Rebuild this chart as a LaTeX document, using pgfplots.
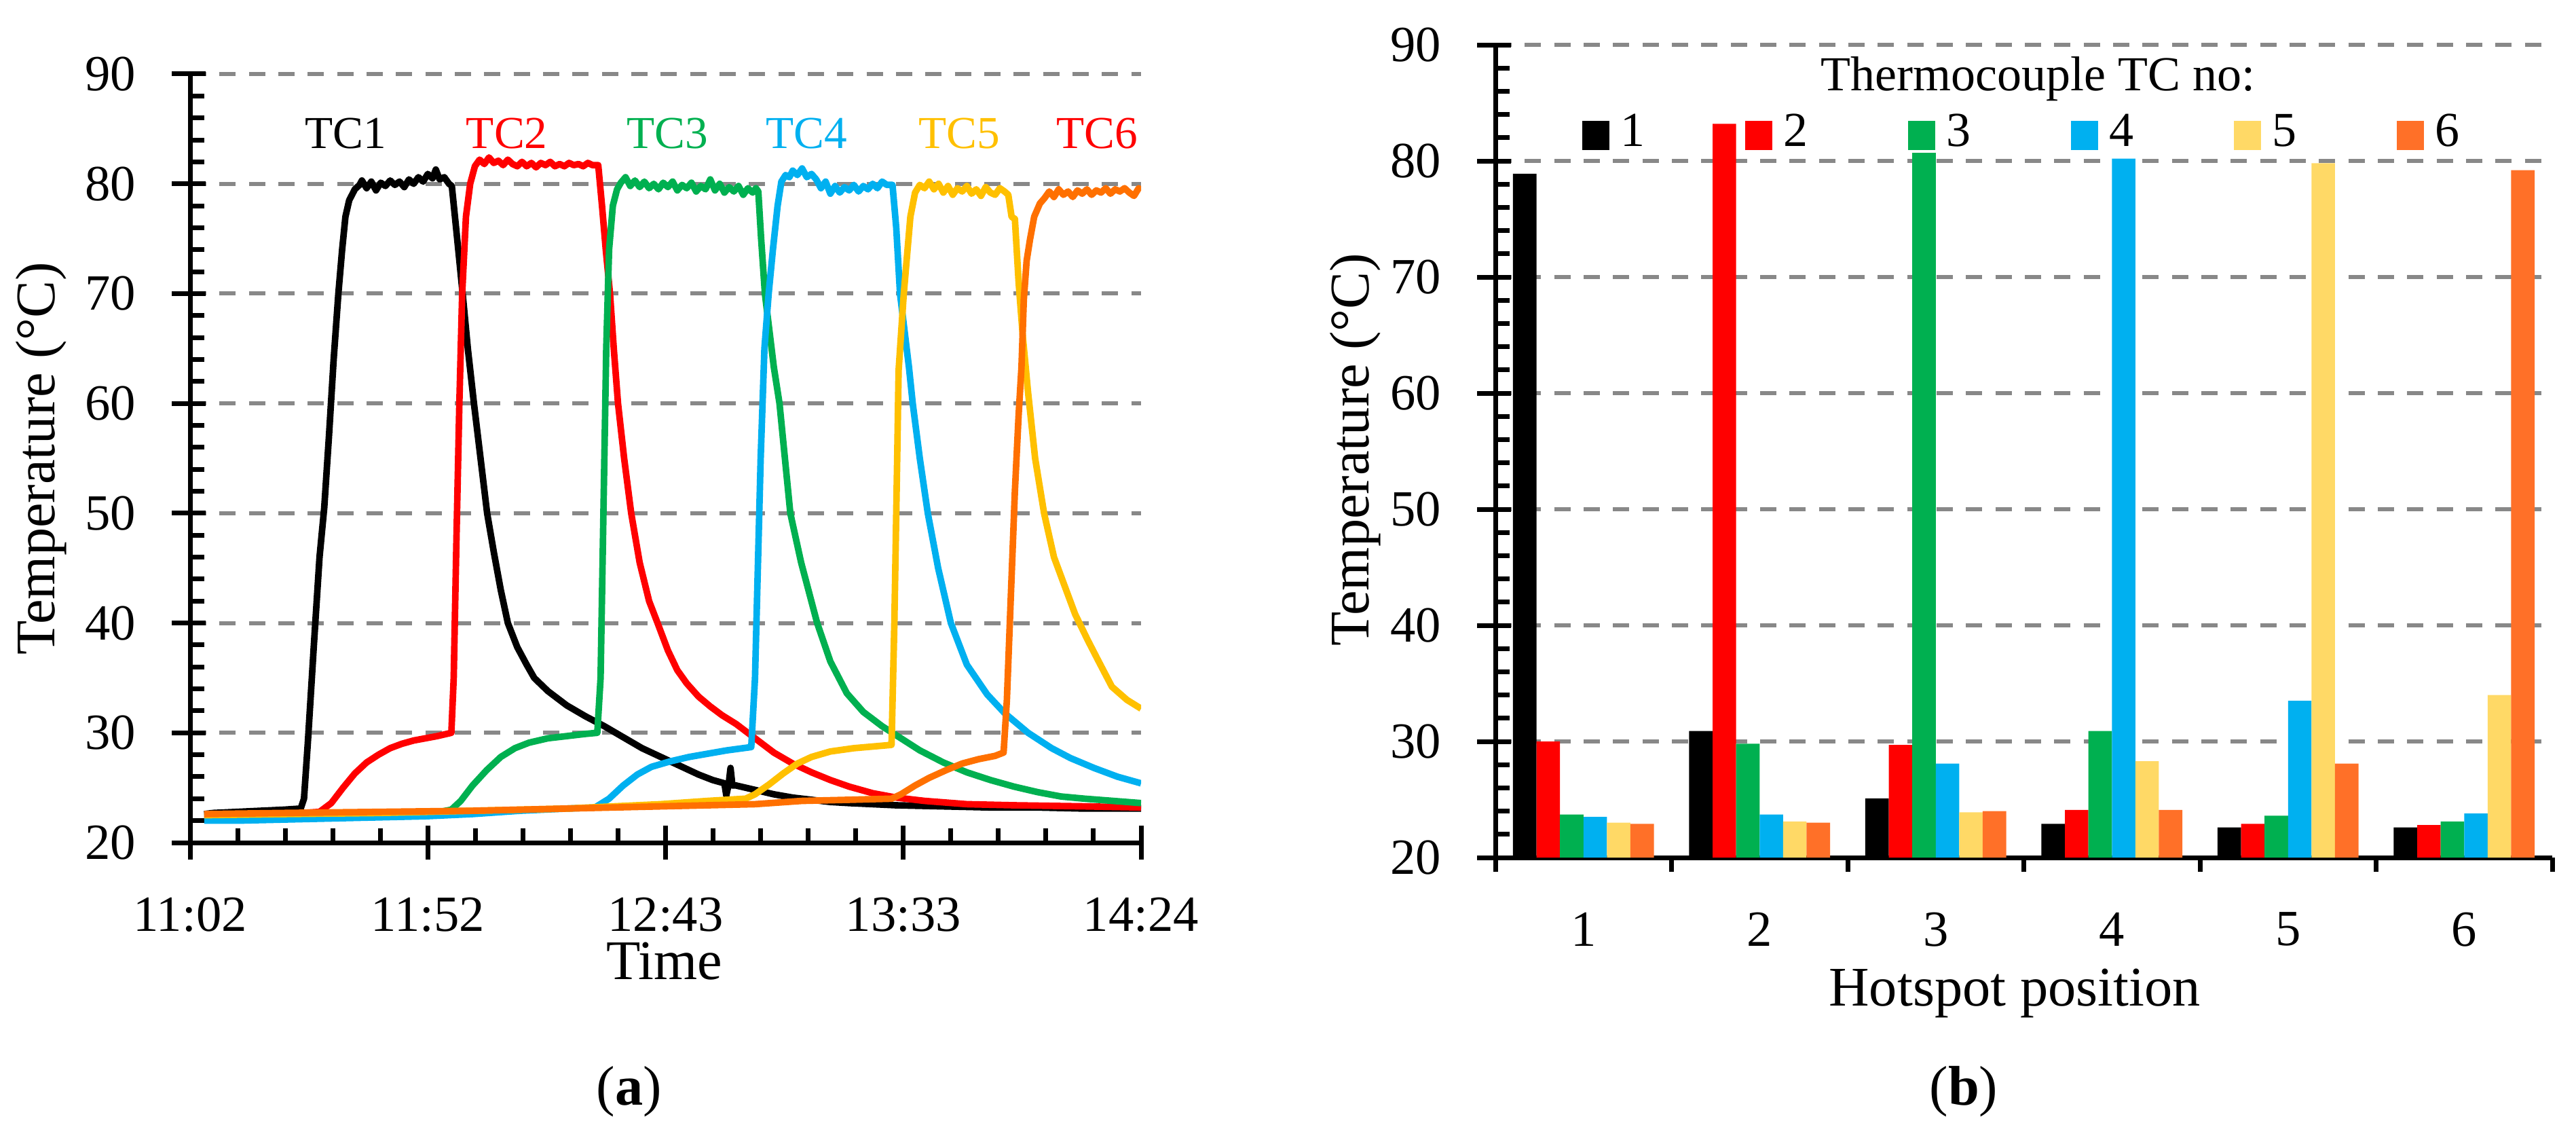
\documentclass[border=0pt]{standalone}
\usepackage{pgfplots}
\pgfplotsset{compat=1.18}
\usepackage{pgfplotstable}
\usepackage{fontspec}
\setmainfont{Liberation Serif}
\definecolor{tcred}{HTML}{FF0000}
\definecolor{tcgreen}{HTML}{00B050}
\definecolor{tcblue}{HTML}{00B0F0}
\definecolor{tcyellow}{HTML}{FFC000}
\definecolor{tcorange}{HTML}{FF7000}
\definecolor{bryellow}{HTML}{FFD966}
\definecolor{brorange}{HTML}{FF7028}
\definecolor{gridgray}{HTML}{888888}

\pgfplotstableread{
pos tc1 tc2 tc3 tc4 tc5 tc6
1 78.9 30.0 23.7 23.5 23.0 22.9
2 30.9 83.2 29.8 23.7 23.1 23.0
3 25.1 29.7 80.7 28.1 23.9 24.0
4 22.9 24.1 30.9 80.2 28.3 24.1
5 22.6 22.9 23.6 33.5 79.8 28.1
6 22.6 22.8 23.1 23.8 34.0 79.2
}\bardata

\pgfplotsset{
  panel/.style={
    scale only axis,
    axis x line*=bottom, axis y line*=left,
    axis line style={-, line width=1.05pt, black},
    every outer x axis line/.append style={-},
    every outer y axis line/.append style={-},
    tick align=inside,
    major tick length=7.5pt, minor tick length=3.1pt,
    tick style={line width=1.05pt, black},
    every major y tick/.append style={xshift=-4pt},
    ymin=20, ymax=90, ytick={20,30,...,90}, minor y tick num=4,
    ymajorgrids,
    major grid style={gridgray, line width=0.9pt, dash pattern=on 3.6pt off 2.9pt},
    tick label style={font=\fontsize{11.2}{13}\selectfont},
    yticklabel style={xshift=-8.5pt},
    xticklabel style={yshift=-8.6pt},
    /pgf/number format/assume math mode=true,
    no markers,
  },
  tcline/.style={line width=1.45pt, line join=round},
  sqlegend/.style={legend image code/.code={\fill[##1] (0pt,-3.65pt) rectangle (6pt,2.85pt);}},
}

\begin{document}
\begin{tikzpicture}
\useasboundingbox (0pt,0pt) rectangle (569.25pt,251.7pt);

% ---------------- (a) ----------------
\begin{axis}[panel,
  at={(42pt,65.55pt)}, anchor=south west,
  width=210.15pt, height=169.8pt,
  xmin=0, xmax=202,
  xtick={0,50.5,101,151.5,202},
  xticklabels={11:02,11:52,12:43,13:33,14:24},
  minor x tick num=4,
  every major x tick/.append style={yshift=-3.75pt},
]
\addplot[tcline, black] coordinates {
(3,22.6)(5,22.7)(10,22.8)(15,22.9)(20,23.0)(23.5,23.1)(24.2,24)(25,29)(26.3,38)(27.5,46)(28.5,50.5)(29.5,57)(30.5,64)(31.5,70)(32.3,74)(33,77)(33.8,78.5)(35,79.5)(36,79.9)(36.5,80.3)(37.5,79.6)(38.5,80.2)(39.5,79.4)(40.5,80.1)(41.5,79.8)(42.5,80.3)(43.5,79.9)(44.5,80.2)(45.5,79.7)(46.5,80.4)(47.5,80.0)(48.5,80.6)(49.5,80.2)(50.5,80.9)(51.5,80.5)(52.2,81.3)(53,80.4)(54,80.6)(55,80.0)(55.6,79.8)(56.5,76)(57.9,70)(59,65)(60.3,60)(61.7,55)(63.1,50)(64.5,46.5)(66,43)(67.5,40)(69.5,37.8)(71.5,36.2)(73.1,35)(76,33.8)(80,32.5)(84,31.5)(88,30.6)(92,29.6)(96,28.6)(100,27.8)(104,27.0)(108,26.2)(111,25.7)(113.5,25.4)(113.9,24.3)(114.4,25.3)(114.8,26.8)(115.2,25.2)(116,25.2)(118,25.0)(120,24.8)(124,24.4)(128,24.1)(132,23.9)(136,23.7)(140,23.6)(145,23.5)(150,23.4)(160,23.3)(170,23.2)(180,23.2)(190,23.1)(202,23.1)
};
\addplot[tcline, tcred] coordinates {
(3,22.5)(10,22.5)(20,22.6)(27.5,22.8)(30,23.6)(32.5,25)(35,26.3)(37.5,27.3)(40,28.0)(42.5,28.6)(45,29.0)(47.5,29.3)(50,29.5)(52.5,29.7)(54.5,29.9)(55.5,30.0)(56,35)(56.6,48)(57.2,60)(57.8,70)(58.6,77)(59.5,80)(60.5,81.6)(61.5,82.2)(62.5,81.8)(63.5,82.4)(64.5,81.9)(65.5,82.1)(66.5,81.7)(67.5,82.2)(68.5,81.8)(69.5,81.6)(70.5,82.0)(71.5,81.6)(72.5,81.9)(73.5,81.5)(74.5,81.9)(75.5,81.7)(76.5,82.0)(77.5,81.6)(78.5,81.8)(79.5,81.6)(80.5,81.9)(81.5,81.7)(82.5,81.8)(83.5,81.6)(84.5,81.9)(85.5,81.7)(86.7,81.7)(87.5,78)(88.3,74)(89.2,70)(90,65)(90.9,60)(92.2,55)(93.7,50)(95.5,45.5)(97.5,42)(99.3,40)(101.5,37.5)(103.5,35.7)(105.5,34.5)(108,33.3)(110.5,32.4)(113,31.6)(116,30.8)(120,29.5)(124,28.2)(128,27.2)(132,26.4)(136,25.7)(140,25.1)(145,24.5)(150,24.1)(156,23.8)(165,23.5)(175,23.4)(190,23.3)(202,23.2)
};
\addplot[tcline, tcgreen] coordinates {
(3,22.3)(20,22.4)(40,22.6)(53,22.8)(55.5,23.0)(57.5,23.8)(60,25.2)(63,26.6)(66,27.8)(69,28.6)(72,29.1)(76,29.5)(80,29.7)(84,29.9)(86.5,30.0)(87.2,35)(87.8,50)(88.4,65)(89,74)(89.8,78)(90.7,79.5)(91.5,80.1)(92.5,80.6)(93.5,79.8)(94.5,80.3)(95.5,79.7)(96.5,80.2)(97.5,79.6)(98.5,80.0)(99.5,79.5)(100.5,80.1)(101.5,79.7)(102.5,80.2)(103.5,79.4)(104.5,79.9)(105.5,79.6)(106.5,80.1)(107.5,79.3)(108.5,79.8)(109.5,79.5)(110.5,80.4)(111.5,79.4)(112.5,80.0)(113.5,79.2)(114.5,79.7)(115.5,79.3)(116.5,79.8)(117.5,79.0)(118.5,79.6)(119.5,79.2)(120.2,79.6)(120.7,79.3)(121.3,75)(122.1,70)(124,63.3)(125.2,60)(127.5,50)(129.8,45.5)(133.2,40)(136,36.5)(139.5,33.6)(143,31.9)(147,30.6)(151,29.5)(155,28.4)(160,27.3)(165,26.4)(170,25.7)(175,25.1)(180,24.6)(185,24.2)(190,24.0)(196,23.8)(202,23.6)
};
\addplot[tcline, tcblue] coordinates {
(3,22.0)(10,22.0)(20,22.1)(30,22.2)(40,22.3)(50,22.4)(60,22.6)(70,22.9)(80,23.1)(86,23.2)(89,24.0)(92,25.2)(95,26.2)(98,26.9)(102,27.4)(106,27.8)(110,28.1)(114,28.4)(119.2,28.7)(120,35)(120.6,45)(121.2,55)(122,65)(122.9,70)(123.8,74)(124.8,78)(125.6,80.2)(126.5,80.8)(127.3,80.6)(128,81.2)(129,80.8)(130,81.4)(131,80.6)(132,80.9)(133,80.4)(134,79.6)(135,80.2)(136,79.1)(137,79.8)(138,79.2)(139,79.7)(140,79.4)(141,79.9)(142,79.3)(143,79.8)(144,79.5)(145,80.0)(146,79.6)(147,80.2)(148,79.9)(149.2,79.9)(150,76)(150.8,70)(152.7,63.3)(153.5,60)(155,55)(156.7,50)(158.9,45)(161.6,40)(165,36.2)(169.3,33.5)(173,31.8)(178,30)(183,28.6)(187,27.7)(192,26.8)(197,26)(202,25.4)
};
\addplot[tcline, tcyellow] coordinates {
(3,22.5)(20,22.6)(40,22.7)(60,22.9)(80,23.1)(100,23.5)(110,23.8)(118,24.0)(120,24.4)(123,25.3)(126,26.3)(129,27.2)(132,27.8)(136,28.3)(141,28.6)(149,28.9)(149.6,40)(150.2,55)(150.5,63)(151.6,70)(153,77)(154,79.2)(155,79.9)(156,79.6)(157,80.2)(158,79.5)(159,80.0)(160,79.2)(161,79.8)(162,79.0)(163,79.6)(164,79.3)(165,79.8)(166,79.1)(167,79.5)(168,78.9)(169,79.7)(170,79.2)(171,79.0)(172,79.6)(173,79.3)(173.8,79.0)(174.5,77)(175.2,76.8)(176,71)(176.9,66)(178,61)(179.5,55)(181.4,50)(183.5,46)(185.4,43.8)(188,40.8)(190.6,38.5)(193,36.5)(195.8,34.2)(199,33)(202,32.2)
};
\addplot[tcline, tcorange] coordinates {
(3,22.6)(20,22.7)(40,22.8)(60,22.9)(80,23.1)(100,23.3)(110,23.4)(120,23.5)(130,23.8)(140,23.9)(149,24.0)(151,24.4)(154,25.2)(157,25.9)(160.6,26.6)(164,27.2)(167.5,27.6)(171,27.9)(172.8,28.2)(173.5,33)(174.3,42)(175.2,52)(176,59)(176.6,63.3)(177.1,69.5)(177.7,73)(178.4,74.9)(179.3,77)(180.5,78.2)(181.5,78.7)(182.5,79.3)(183.5,78.8)(184.5,79.5)(185.5,79.0)(186.5,79.3)(187.5,78.8)(188.5,79.4)(189.5,79.1)(190.5,79.5)(191.5,79.0)(192.5,79.4)(193.5,79.2)(194.5,79.6)(195.5,79.1)(196.5,79.5)(197.5,79.3)(198.5,79.6)(199.5,79.2)(200.5,78.9)(201.5,79.6)(202,79.4)
};
\begin{scope}[every node/.style={font=\fontsize{10.1}{12}\selectfont}]
\node[black]    at (axis cs:33.1,84.6) {TC1};
\node[tcred]    at (axis cs:67.3,84.6) {TC2};
\node[tcgreen]  at (axis cs:101.4,84.6) {TC3};
\node[tcblue]   at (axis cs:131,84.6) {TC4};
\node[tcyellow] at (axis cs:163.4,84.6) {TC5};
\node[tcred]    at (axis cs:192.7,84.6) {TC6};
\end{scope}
\end{axis}

% ---------------- (b) ----------------
\begin{axis}[panel,
  at={(330.45pt,62.25pt)}, anchor=south west,
  width=233.55pt, height=179.55pt,
  ybar=0pt, bar width=5.19pt,
  tick align=inside,
  xmin=0.5, xmax=6.5, enlarge x limits=false,
  xtick={1,2,3,4,5,6},
  xticklabels={1,2,3,4,5,6},
  every major x tick/.append style={draw=none},
  minor xtick={0.5,1.5,2.5,3.5,4.5,5.5,6.5},
  every minor x tick/.append style={yshift=-3.1pt},
  legend columns=6,
  legend style={at={(0.0822,0.891)}, anchor=west, draw=none, fill=none,
    inner sep=0pt, outer sep=0pt, column sep=0pt,
    font=\fontsize{10.8}{13}\selectfont,
    nodes={inner sep=0pt},
    /tikz/every odd column/.append style={column sep=2.5pt},
    /tikz/every even column/.append style={column sep=22.1pt}},
]
\addplot[fill=black, draw=none, sqlegend] table[x=pos, y=tc1] {\bardata};
\addlegendentry{1}
\addplot[fill=tcred, draw=none, sqlegend] table[x=pos, y=tc2] {\bardata};
\addlegendentry{2}
\addplot[fill=tcgreen, draw=none, sqlegend] table[x=pos, y=tc3] {\bardata};
\addlegendentry{3}
\addplot[fill=tcblue, draw=none, sqlegend] table[x=pos, y=tc4] {\bardata};
\addlegendentry{4}
\addplot[fill=bryellow, draw=none, sqlegend] table[x=pos, y=tc5] {\bardata};
\addlegendentry{5}
\addplot[fill=brorange, draw=none, sqlegend] table[x=pos, y=tc6] {\bardata};
\addlegendentry{6}
\end{axis}

% ---------------- labels ----------------
\begin{scope}[every node/.style={font=\fontsize{12.36}{14}\selectfont, inner sep=0pt}]
\node[rotate=90] at (9.15pt,150.45pt) {Temperature (°C)};
\node at (146.85pt,39.3pt) {Time};
\node[rotate=90] at (299.55pt,152.4pt) {Temperature (°C)};
\node at (445.2pt,32.3pt) {Hotspot position};
\node at (139.05pt,10.5pt) {(\textbf{a})};
\node at (433.95pt,10.5pt) {(\textbf{b})};
\end{scope}
\node[font=\fontsize{10.8}{13}\selectfont, inner sep=0pt] at (450.3pt,234.3pt) {Thermocouple TC no:};
\end{tikzpicture}
\end{document}
